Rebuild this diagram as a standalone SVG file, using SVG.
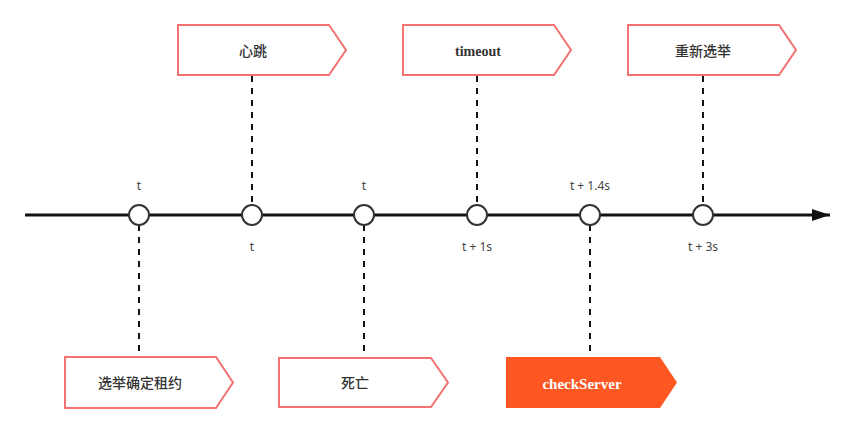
<svg xmlns="http://www.w3.org/2000/svg" width="853" height="433" viewBox="0 0 853 433">
<defs>
<style>
.box{fill:#fff;stroke:#F27272;stroke-width:2}
.boxf{fill:#FF5722;stroke:none}
.lbl{font-family:"Liberation Serif","Noto Sans CJK SC",serif;font-size:14px;font-weight:bold;fill:#333;text-anchor:middle;dominant-baseline:central}
.lblw{font-family:"Liberation Serif","Noto Sans CJK SC",serif;font-size:15px;font-weight:bold;fill:#fff;text-anchor:middle;dominant-baseline:central}
.cjk{font-family:"Noto Sans CJK SC",sans-serif;font-weight:500}
.tm{font-family:"Noto Sans","Liberation Sans",sans-serif;font-size:12px;fill:#444;text-anchor:middle}
.dash{stroke:#111;stroke-width:2;stroke-dasharray:6 6;fill:none}
.dot{fill:#fff;stroke:#333;stroke-width:2}
</style>
<marker id="arr" markerWidth="18" markerHeight="12" refX="18" refY="6" orient="auto" markerUnits="userSpaceOnUse">
<path d="M0,0 L18,6 L0,12 Z" fill="#111"/>
</marker>
</defs>
<rect width="853" height="433" fill="#fff"/>
<g id="connectors">
<line x1="25" y1="215" x2="830" y2="215" stroke="#111" stroke-width="3" marker-end="url(#arr)"/>
<line class="dash" x1="252" y1="76" x2="252" y2="205"/>
<line class="dash" x1="477" y1="76" x2="477" y2="205"/>
<line class="dash" x1="703" y1="76" x2="703" y2="205"/>
<line class="dash" x1="139" y1="225" x2="139" y2="357"/>
<line class="dash" x1="364" y1="225" x2="364" y2="357"/>
<line class="dash" x1="590" y1="225" x2="590" y2="357"/>
</g>
<g id="points">
<circle class="dot" cx="139" cy="215" r="10"/>
<circle class="dot" cx="252" cy="215" r="10"/>
<circle class="dot" cx="364" cy="215" r="10"/>
<circle class="dot" cx="477" cy="215" r="10"/>
<circle class="dot" cx="590" cy="215" r="10"/>
<circle class="dot" cx="703" cy="215" r="10"/>
<text class="tm" x="139" y="190">t</text>
<text class="tm" x="364" y="190">t</text>
<text class="tm" x="590" y="190">t + 1.4s</text>
<text class="tm" x="252" y="251">t</text>
<text class="tm" x="477" y="251">t + 1s</text>
<text class="tm" x="703" y="251">t + 3s</text>
</g>
<g id="n-heartbeat">
<path class="box" d="M178,25 H329 L346,50 L329,75 H178 Z"/>
<text class="lbl cjk" x="253" y="50">心跳</text>
</g>
<g id="n-timeout">
<path class="box" d="M403,25 H554 L571,50 L554,75 H403 Z"/>
<text class="lbl" x="478" y="51">timeout</text>
</g>
<g id="n-reelect">
<path class="box" d="M628,25 H779 L796,50 L779,75 H628 Z"/>
<text class="lbl cjk" x="703" y="50">重新选举</text>
</g>
<g id="n-lease">
<path class="box" d="M65,357 H216 L233,382.5 L216,408 H65 Z"/>
<text class="lbl cjk" x="140" y="382">选举确定租约</text>
</g>
<g id="n-dead">
<path class="box" d="M279,358 H431 L448,382.5 L431,407 H279 Z"/>
<text class="lbl cjk" x="355" y="382">死亡</text>
</g>
<g id="n-checkserver">
<path class="boxf" d="M506,357 H660 L677,382.5 L660,408 H506 Z"/>
<text class="lblw" x="582" y="384">checkServer</text>
</g>
</svg>
